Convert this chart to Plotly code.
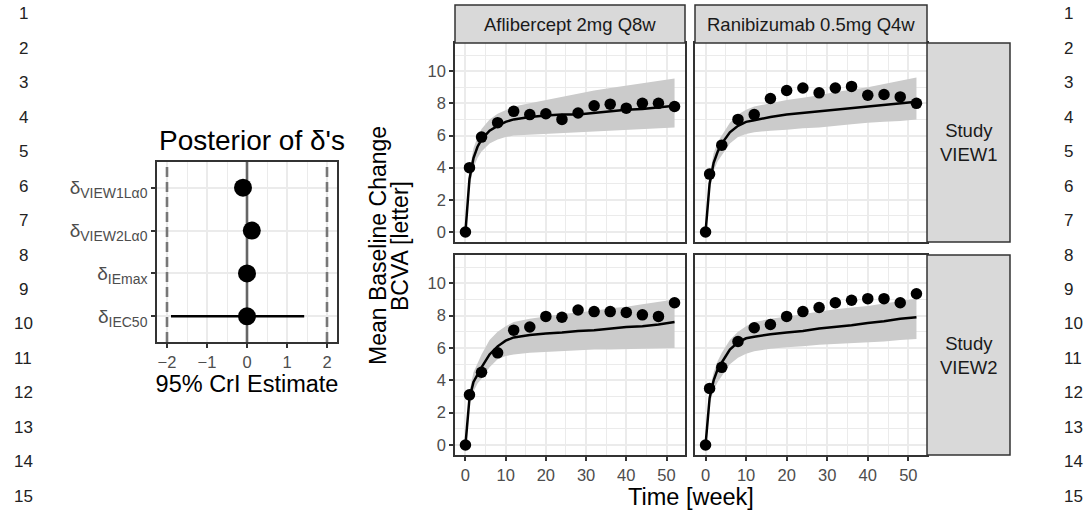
import plotly.graph_objects as go

# ---------------- data ----------------
# Forest plot (posterior of deltas)
param_names = ["VIEW1Lα0", "VIEW2Lα0", "IEmax", "IEC50"]
param_est = [-0.10, 0.12, 0.00, 0.00]
param_lo = [-0.16, 0.06, -0.06, -1.90]
param_hi = [-0.04, 0.18, 0.06, 1.43]
ref_dashed = [-2, 2]
ref_zero = 0
forest_xticks = [-2, -1, 0, 1, 2]

# Observed mean change
weeks_obs = [0, 1, 4, 8, 12, 16, 20, 24, 28, 32, 36, 40, 44, 48, 52]
obs_afl_v1 = [0.0, 4.0, 5.9, 6.8, 7.5, 7.3, 7.35, 7.0, 7.4, 7.85, 7.95, 7.7, 8.0, 8.0, 7.8]
obs_ran_v1 = [0.0, 3.6, 5.4, 7.0, 7.3, 8.3, 8.8, 8.95, 8.65, 8.95, 9.05, 8.5, 8.55, 8.4, 8.0]
obs_afl_v2 = [0.0, 3.1, 4.5, 5.7, 7.1, 7.3, 7.95, 7.9, 8.35, 8.25, 8.25, 8.2, 8.05, 7.95, 8.8]
obs_ran_v2 = [0.0, 3.5, 4.8, 6.4, 7.25, 7.45, 7.95, 8.25, 8.5, 8.8, 8.95, 9.05, 9.05, 8.8, 9.35]

# Model prediction (median and 95% band)
weeks_fit = [0, 1, 2, 3, 4, 6, 8, 10, 12, 16, 20, 24, 28, 32, 36, 40, 44, 48, 52]
fit_afl_v1 = [0, 3.3, 4.6, 5.3, 5.75, 6.3, 6.6, 6.85, 7.0, 7.15, 7.25, 7.3, 7.3, 7.4, 7.5, 7.6, 7.65, 7.75, 7.85]
lo_afl_v1 = [0, 2.8, 4.0, 4.6, 5.0, 5.5, 5.75, 5.9, 6.0, 6.05, 6.1, 6.15, 6.2, 6.25, 6.3, 6.35, 6.4, 6.45, 6.5]
hi_afl_v1 = [0, 3.8, 5.2, 5.9, 6.4, 7.0, 7.35, 7.6, 7.8, 8.0, 8.2, 8.4, 8.6, 8.8, 8.95, 9.1, 9.25, 9.4, 9.55]

fit_ran_v1 = [0, 3.0, 4.3, 5.0, 5.5, 6.2, 6.6, 6.85, 6.95, 7.15, 7.3, 7.4, 7.5, 7.6, 7.7, 7.8, 7.9, 8.0, 8.1]
lo_ran_v1 = [0, 2.6, 3.8, 4.4, 4.8, 5.5, 5.9, 6.1, 6.2, 6.3, 6.35, 6.45, 6.5, 6.6, 6.7, 6.8, 6.85, 6.9, 7.0]
hi_ran_v1 = [0, 3.5, 4.9, 5.6, 6.0, 6.8, 7.3, 7.6, 7.8, 8.0, 8.2, 8.35, 8.5, 8.7, 8.85, 9.0, 9.2, 9.4, 9.6]

fit_afl_v2 = [0, 2.9, 3.9, 4.4, 4.8, 5.6, 6.1, 6.45, 6.65, 6.8, 6.9, 6.95, 7.05, 7.1, 7.2, 7.3, 7.35, 7.45, 7.6]
lo_afl_v2 = [0, 2.5, 3.3, 3.8, 4.1, 4.8, 5.3, 5.5, 5.6, 5.7, 5.75, 5.8, 5.85, 5.9, 5.9, 5.92, 5.95, 5.97, 6.0]
hi_afl_v2 = [0, 3.3, 4.5, 5.1, 5.6, 6.5, 7.0, 7.35, 7.6, 7.8, 7.95, 8.1, 8.2, 8.3, 8.45, 8.55, 8.7, 8.85, 9.0]

fit_ran_v2 = [0, 2.9, 4.0, 4.7, 5.1, 5.9, 6.35, 6.6, 6.7, 6.85, 6.95, 7.05, 7.2, 7.3, 7.4, 7.55, 7.65, 7.8, 7.9]
lo_ran_v2 = [0, 2.5, 3.4, 3.9, 4.3, 5.0, 5.4, 5.65, 5.8, 5.95, 6.05, 6.1, 6.2, 6.25, 6.3, 6.35, 6.4, 6.5, 6.55]
hi_ran_v2 = [0, 3.3, 4.5, 5.2, 5.7, 6.5, 7.0, 7.35, 7.6, 7.8, 7.95, 8.1, 8.25, 8.4, 8.5, 8.6, 8.75, 8.9, 9.05]

col_labels = ["Aflibercept 2mg Q8w", "Ranibizumab 0.5mg Q4w"]
row_labels = ["Study<br>VIEW1", "Study<br>VIEW2"]
y_title_lines = ["Mean Baseline Change", "BCVA [letter]"]
line_numbers = [str(i) for i in range(1, 16)]

# ---------------- layout helpers ----------------
W, H = 1086, 518
def px(x): return x / W
def py(y): return 1 - y / H

FONT = "Liberation Sans, Arial, Helvetica, sans-serif"
GRID = "#EBEBEB"
BORDER = "#333333"
TICKC = "#4D4D4D"
RIBBON = "#CBCBCB"

FOREST_X = (157, 337)
FOREST_Y = (162, 342)
n_par = len(param_names)
par_pos = [n_par - i for i in range(n_par)]          # top-to-bottom order
forest_yrange = [0.4, n_par + 0.6]

fig = go.Figure()

# ---------- forest plot ----------
for v, dash, col in [(ref_dashed[0], "10px,5px", "#777777"), (ref_dashed[1], "10px,5px", "#777777"),
                     (ref_zero, "solid", "#666666")]:
    fig.add_trace(go.Scatter(x=[v, v], y=forest_yrange, mode="lines",
                             line=dict(color=col, width=2.6, dash=dash),
                             xaxis="x", yaxis="y", showlegend=False, hoverinfo="skip"))
fig.add_trace(go.Scatter(
    x=param_est, y=par_pos, mode="markers",
    marker=dict(color="black", size=18),
    error_x=dict(type="data", symmetric=False,
                 array=[h - e for h, e in zip(param_hi, param_est)],
                 arrayminus=[e - l for e, l in zip(param_est, param_lo)],
                 color="black", thickness=2.5, width=0),
    xaxis="x", yaxis="y", showlegend=False, hoverinfo="skip"))

fig.update_layout(
    xaxis=dict(domain=[px(FOREST_X[0]), px(FOREST_X[1])], anchor="y", range=[-2.25, 2.25],
               tickmode="array", tickvals=forest_xticks,
               showgrid=True, gridcolor=GRID, gridwidth=1.8, zeroline=False,
               minor=dict(dtick=0.5, showgrid=True, gridcolor=GRID, gridwidth=0.9),
               showline=True, mirror=True, linecolor=BORDER, linewidth=1.5,
               ticks="outside", ticklen=4, tickwidth=1.5, tickcolor=BORDER,
               tickfont=dict(size=16.5, color=TICKC, family=FONT),
               title=dict(text="95% CrI Estimate", font=dict(size=23.5, color="black", family=FONT), standoff=6)),
    yaxis=dict(domain=[py(FOREST_Y[1]), py(FOREST_Y[0])], anchor="x",
               range=forest_yrange, tickmode="array", tickvals=par_pos,
               ticktext=["δ<sub><span style='font-size:14px'>" + n + "</span></sub>" for n in param_names],
               showgrid=True, gridcolor=GRID, gridwidth=1.8, zeroline=False,
               showline=True, mirror=True, linecolor=BORDER, linewidth=1.5,
               ticks="outside", ticklen=4, tickwidth=1.5, tickcolor=BORDER,
               tickfont=dict(size=19, color=TICKC, family=FONT)),
)

shapes = []

# ---------- facets ----------
cols_x = [(455, 685), (695, 927)]
rows_y = [(43, 242), (255, 455)]
panels = [
    (0, 0, obs_afl_v1, fit_afl_v1, lo_afl_v1, hi_afl_v1),
    (0, 1, obs_ran_v1, fit_ran_v1, lo_ran_v1, hi_ran_v1),
    (1, 0, obs_afl_v2, fit_afl_v2, lo_afl_v2, hi_afl_v2),
    (1, 1, obs_ran_v2, fit_ran_v2, lo_ran_v2, hi_ran_v2),
]
for k, (r, c, obs, fit, lo, hi) in enumerate(panels):
    idx = k + 2
    xa, ya = f"x{idx}", f"y{idx}"
    fig.add_trace(go.Scatter(x=weeks_fit + weeks_fit[::-1], y=hi + lo[::-1],
                             fill="toself", fillcolor=RIBBON, line=dict(width=0),
                             mode="lines", xaxis=xa, yaxis=ya, showlegend=False, hoverinfo="skip"))
    fig.add_trace(go.Scatter(x=weeks_fit, y=fit, mode="lines", line=dict(color="black", width=2.5),
                             xaxis=xa, yaxis=ya, showlegend=False, hoverinfo="skip"))
    fig.add_trace(go.Scatter(x=weeks_obs, y=obs, mode="markers", marker=dict(color="black", size=11.5),
                             xaxis=xa, yaxis=ya, showlegend=False, hoverinfo="skip"))
    bottom = r == 1
    left = c == 0
    fig.layout[f"xaxis{idx}"] = dict(
        domain=[px(cols_x[c][0]), px(cols_x[c][1])], anchor=ya, range=[-2.6, 54.6],
        dtick=10, tick0=0, showgrid=True, gridcolor=GRID, gridwidth=1.8, zeroline=False,
        minor=dict(dtick=5, tick0=0, showgrid=True, gridcolor=GRID, gridwidth=0.9),
        showline=True, mirror=True, linecolor=BORDER, linewidth=1.5,
        ticks="outside" if bottom else "", ticklen=4, tickwidth=1.5, tickcolor=BORDER,
        showticklabels=bottom, tickfont=dict(size=16.5, color=TICKC, family=FONT))
    fig.layout[f"yaxis{idx}"] = dict(
        domain=[py(rows_y[r][1]), py(rows_y[r][0])], anchor=xa, range=[-0.62, 11.75],
        dtick=2, tick0=0, showgrid=True, gridcolor=GRID, gridwidth=1.8, zeroline=False,
        minor=dict(dtick=1, tick0=1, showgrid=True, gridcolor=GRID, gridwidth=0.9),
        showline=True, mirror=True, linecolor=BORDER, linewidth=1.5,
        ticks="outside" if left else "", ticklen=4, tickwidth=1.5, tickcolor=BORDER,
        showticklabels=left, tickfont=dict(size=16.5, color=TICKC, family=FONT))

annotations = []
def note(text, x, y, size, color="black", xanchor="center", angle=0):
    annotations.append(dict(text=text, xref="paper", yref="paper", showarrow=False,
                            x=px(x), y=py(y), xanchor=xanchor, yanchor="middle",
                            textangle=angle, font=dict(size=size, color=color, family=FONT)))

# strips
for c, lab in enumerate(col_labels):
    shapes.append(dict(type="rect", xref="paper", yref="paper",
                       x0=px(cols_x[c][0]), x1=px(cols_x[c][1]), y0=py(43), y1=py(5),
                       fillcolor="#D9D9D9", line=dict(color=BORDER, width=1.5), layer="above"))
    note(lab, (cols_x[c][0] + cols_x[c][1]) / 2, 24, 18.5, "#1A1A1A")
for r, lab in enumerate(row_labels):
    shapes.append(dict(type="rect", xref="paper", yref="paper",
                       x0=px(927), x1=px(1010), y0=py(rows_y[r][1]), y1=py(rows_y[r][0]),
                       fillcolor="#D9D9D9", line=dict(color=BORDER, width=1.5), layer="above"))
    note(lab, 968.5, (rows_y[r][0] + rows_y[r][1]) / 2, 18.5, "#1A1A1A")

# titles
note("Posterior of δ's", 157, 140, 28, xanchor="left")
note("Time [week]", 691, 497, 23.5)
for j, t in enumerate(y_title_lines):
    note(t, 378 + 22 * j, 246, 23, angle=-90)

# line numbers
for i, t in enumerate(line_numbers):
    yy = 14 + i * 34.43
    note(t, 23, yy, 17, "#222222")
    note(t, 1062, yy, 17, "#222222", xanchor="left")

fig.update_layout(width=W, height=H, margin=dict(l=0, r=0, t=0, b=0),
                  paper_bgcolor="white", plot_bgcolor="white",
                  shapes=shapes, annotations=annotations, showlegend=False)

fig.write_html("out.html")
